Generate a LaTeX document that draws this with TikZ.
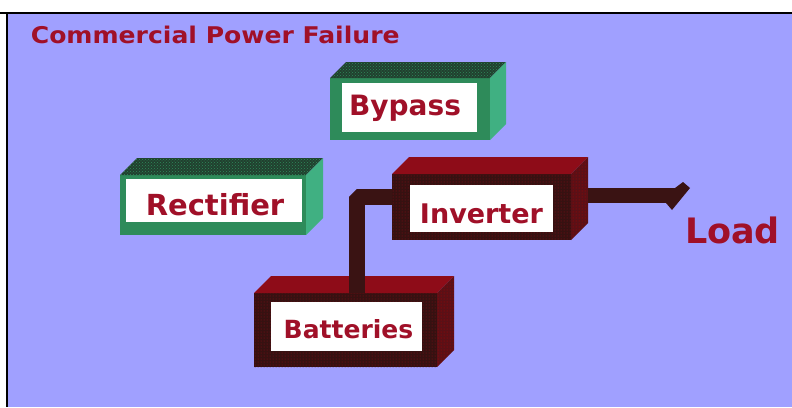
\documentclass[tikz,border=0pt]{standalone}
\usepackage{fontspec}
\setmainfont{DejaVu Sans}
\usetikzlibrary{calc,patterns,positioning}
\definecolor{lavender}{HTML}{A0A0FF}
\definecolor{upsred}{HTML}{A01028}
\definecolor{greenfront}{HTML}{2E8B5A}
\definecolor{greentop}{HTML}{21402F}
\definecolor{greenside}{HTML}{40B082}
\definecolor{redfront}{HTML}{361111}
\definecolor{redtop}{HTML}{8E0C18}
\definecolor{redside}{HTML}{5A1016}
\definecolor{wirecol}{HTML}{3A1313}

% top and right faces of a box drawn from its front face node
\newcommand{\boxfaces}[4]{%
  \fill[#3] (#1.north west) -- ++(#2,-#2) -- ($(#1.north east)+(#2,-#2)$) -- (#1.north east) -- cycle;
  \fill[#4] (#1.north east) -- ++(#2,-#2) -- ($(#1.south east)+(#2,-#2)$) -- (#1.south east) -- cycle;}

\begin{document}
\begin{tikzpicture}[x=1pt,y=-1pt,
    front/.style={rectangle,inner sep=0,outer sep=0},
    label/.style={anchor=base,font=\fontsize{27}{27}\selectfont\bfseries,text=upsred},
    wire/.style={wirecol,line width=16pt,line join=bevel}]
  \useasboundingbox (0,0) rectangle (792,407);
  % Background
  \fill[white] (0,0) rectangle (792,407);
  \fill[lavender] (7,13) rectangle (792,407);
  \draw[black,line width=2pt] (0,13) -- (792,13);
  \draw[black,line width=1.5pt] (7,13) -- (7,407);
  \node[anchor=base west,font=\fontsize{23}{23}\selectfont\bfseries,text=upsred,xscale=1.09]
    (title) at (27,43) {Commercial Power Failure};
  % Bypass
  \node[front,fill=greenfront,minimum width=160pt,minimum height=62pt] (bypassbox) at (410,109) {};
  \boxfaces{bypassbox}{16}{greentop,postaction={pattern=crosshatch dots,pattern color=greenfront}}{greenside}
  \fill[white] (342,83) rectangle (477,132);
  \node[label,font=\fontsize{28}{28}\selectfont\bfseries] (bypass) at (405,115) {Bypass};
  % Rectifier
  \node[front,fill=greenfront,minimum width=186pt,minimum height=60pt] (rectbox) at (213,205) {};
  \boxfaces{rectbox}{17}{greentop,postaction={pattern=crosshatch dots,pattern color=greenfront}}{greenside}
  \fill[white] (126,179) rectangle (302,222);
  \node[label,font=\fontsize{29}{29}\selectfont\bfseries] (rectifier) at (215,215) {Rectifier};
  % Batteries
  \node[front,fill=redfront,minimum width=183pt,minimum height=74pt,
    postaction={pattern=dots,pattern color=redtop}] (batbox) at (345.5,330) {};
  \boxfaces{batbox}{17}{redtop}{redside,postaction={pattern=dots,pattern color=red!70!black}}
  \fill[white] (271,302) rectangle (422,351);
  \node[label,font=\fontsize{25}{25}\selectfont\bfseries] (batteries) at (348.5,338) {Batteries};
  % Inverter
  \node[front,fill=redfront,minimum width=179pt,minimum height=66pt,
    postaction={pattern=dots,pattern color=redtop}] (invbox) at (481.5,207) {};
  \boxfaces{invbox}{17}{redtop}{redside,postaction={pattern=dots,pattern color=red!70!black}}
  \fill[white] (410,185) rectangle (553,232);
  \node[label] (inverter) at (481.5,223) {Inverter};
  % Wires
  \coordinate (elbow) at (356.5,196.5);
  \draw[wire] (elbow |- batbox.north) -- (elbow) -- (elbow -| invbox.west);
  \coordinate (tip) at (676,195.5);
  \coordinate (invside) at ($(invbox.east)+(17,0)$);
  \draw[wire,line width=15pt] (invside |- tip) -- (tip);
  \fill[wirecol] (tip) ++(-1,-7.5) -- ++(8,-6) -- ++(7,6) -- ++(-18,22) -- ++(-6,-7) -- cycle;
  \node[label,font=\fontsize{35}{35}\selectfont\bfseries] (load) at (732.5,243) {Load};
\end{tikzpicture}
\end{document}
